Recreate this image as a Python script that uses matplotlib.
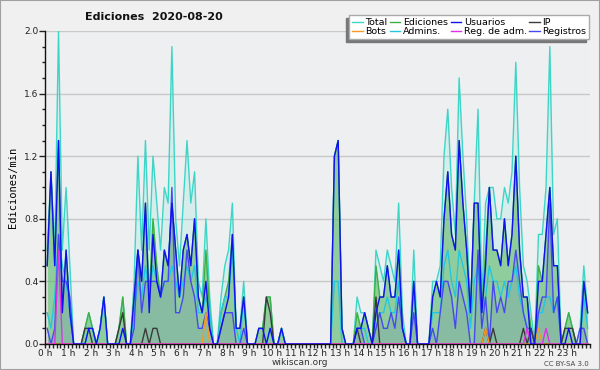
import numpy as np
import matplotlib
matplotlib.use("Agg")
import matplotlib.pyplot as plt
from matplotlib.patches import Rectangle

# 10 minute slots over the day, values in edits per minute
slot_minutes = np.arange(144) * 10 + 5
hour_labels = ["%d h" % h for h in range(24)]

total = [0.6, 1.1, 0.6, 2.0, 0.6, 1.0, 0.5, 0, 0, 0, 0.1, 0.2,
         0.1, 0, 0.1, 0.3, 0, 0, 0, 0.1, 0.3, 0, 0, 0.4,
         1.2, 0.6, 1.3, 0.6, 1.2, 0.9, 0.6, 1.0, 0.9, 1.9, 0.8, 0.5,
         0.9, 1.3, 0.9, 1.1, 0.4, 0.3, 0.8, 0.3, 0, 0, 0.3, 0.5,
         0.6, 0.9, 0.1, 0.1, 0.4, 0, 0, 0, 0.1, 0.1, 0.3, 0.3,
         0, 0, 0.1, 0, 0, 0, 0, 0, 0, 0, 0, 0,
         0, 0, 0, 0, 1.2, 1.3, 0.1, 0, 0, 0, 0.3, 0.2,
         0.2, 0.1, 0, 0.6, 0.5, 0.4, 0.6, 0.5, 0.4, 0.9, 0.2, 0,
         0, 0.6, 0, 0, 0, 0, 0.4, 0.4, 0.5, 1.2, 1.5, 1.0,
         0.7, 1.7, 1.2, 0.8, 0.2, 0.9, 1.5, 0.3, 0.9, 1.0, 1.0, 0.8,
         0.8, 1.0, 0.9, 1.1, 1.8, 1.0, 0.5, 0.4, 0.2, 0, 0.7, 0.7,
         1.0, 1.9, 0.7, 0.8, 0, 0.1, 0.2, 0.1, 0, 0.1, 0.5, 0.2]

ediciones = [0.5, 1.1, 0.5, 1.3, 0.2, 0.6, 0.2, 0, 0, 0, 0.1, 0.2,
             0.1, 0, 0.1, 0.3, 0, 0, 0, 0.1, 0.3, 0, 0, 0.3,
             0.6, 0.4, 0.9, 0.3, 0.8, 0.5, 0.3, 0.6, 0.5, 0.9, 0.6, 0.3,
             0.6, 0.7, 0.5, 0.8, 0.3, 0.2, 0.6, 0.2, 0, 0, 0.2, 0.3,
             0.4, 0.7, 0.1, 0.1, 0.3, 0, 0, 0, 0.1, 0.1, 0.3, 0.3,
             0, 0, 0.1, 0, 0, 0, 0, 0, 0, 0, 0, 0,
             0, 0, 0, 0, 1.2, 1.3, 0.1, 0, 0, 0, 0.2, 0.1,
             0.2, 0.1, 0, 0.5, 0.3, 0.3, 0.5, 0.3, 0.3, 0.6, 0.1, 0,
             0, 0.4, 0, 0, 0, 0, 0.3, 0.4, 0.3, 0.8, 1.1, 0.7,
             0.6, 1.3, 0.9, 0.6, 0.2, 0.9, 0.9, 0.2, 0.6, 1.0, 0.6, 0.6,
             0.5, 0.8, 0.5, 0.7, 1.2, 0.6, 0.3, 0.3, 0.1, 0, 0.5, 0.4,
             0.7, 1.0, 0.5, 0.5, 0, 0.1, 0.2, 0.1, 0, 0, 0.4, 0.2]

usuarios = [0.5, 1.1, 0.5, 1.3, 0.2, 0.6, 0.2, 0, 0, 0, 0, 0.1,
            0.1, 0, 0.1, 0.3, 0, 0, 0, 0, 0.1, 0, 0, 0.3,
            0.6, 0.4, 0.9, 0.2, 0.7, 0.4, 0.3, 0.6, 0.5, 0.9, 0.6, 0.3,
            0.6, 0.7, 0.5, 0.8, 0.3, 0.2, 0.4, 0.1, 0, 0, 0.1, 0.2,
            0.3, 0.7, 0.1, 0.1, 0.3, 0, 0, 0, 0.1, 0.1, 0, 0.1,
            0, 0, 0.1, 0, 0, 0, 0, 0, 0, 0, 0, 0,
            0, 0, 0, 0, 1.2, 1.3, 0.1, 0, 0, 0, 0.1, 0.1,
            0.2, 0.1, 0, 0.2, 0.3, 0.3, 0.5, 0.3, 0.3, 0.6, 0.1, 0,
            0, 0.4, 0, 0, 0, 0, 0.3, 0.4, 0.3, 0.8, 1.1, 0.7,
            0.6, 1.3, 0.9, 0.6, 0.2, 0.9, 0.9, 0.2, 0.5, 1.0, 0.6, 0.6,
            0.5, 0.8, 0.5, 0.7, 1.2, 0.6, 0.3, 0.3, 0, 0, 0.4, 0.4,
            0.7, 1.0, 0.5, 0.5, 0, 0, 0.1, 0, 0, 0, 0.4, 0.2]

ip = [0, 0, 0, 0, 0, 0, 0, 0, 0, 0, 0.1, 0.1,
      0, 0, 0, 0, 0, 0, 0, 0.1, 0.2, 0, 0, 0,
      0, 0, 0.1, 0, 0.1, 0.1, 0, 0, 0, 0, 0, 0,
      0, 0, 0, 0, 0, 0, 0, 0, 0, 0, 0, 0,
      0, 0, 0, 0, 0, 0, 0, 0, 0, 0, 0.3, 0.2,
      0, 0, 0, 0, 0, 0, 0, 0, 0, 0, 0, 0,
      0, 0, 0, 0, 0, 0, 0, 0, 0, 0, 0.1, 0,
      0, 0, 0, 0.3, 0, 0, 0, 0, 0, 0, 0, 0,
      0, 0, 0, 0, 0, 0, 0, 0, 0, 0, 0, 0,
      0, 0, 0, 0, 0, 0, 0, 0, 0.1, 0, 0.1, 0,
      0, 0, 0, 0, 0, 0, 0.1, 0, 0.1, 0, 0, 0,
      0, 0, 0, 0, 0, 0.1, 0.1, 0.1, 0, 0, 0, 0]

bots = [0, 0, 0, 0, 0, 0, 0, 0, 0, 0, 0, 0,
        0, 0, 0, 0, 0, 0, 0, 0, 0, 0, 0, 0,
        0, 0, 0, 0, 0, 0, 0, 0, 0, 0, 0, 0,
        0, 0, 0, 0, 0, 0, 0.2, 0, 0, 0, 0, 0,
        0, 0, 0, 0, 0, 0, 0, 0, 0, 0, 0, 0,
        0, 0, 0, 0, 0, 0, 0, 0, 0, 0, 0, 0,
        0, 0, 0, 0, 0, 0, 0, 0, 0, 0, 0, 0,
        0, 0, 0, 0, 0, 0, 0, 0, 0, 0, 0, 0,
        0, 0, 0, 0, 0, 0, 0, 0, 0, 0, 0, 0,
        0, 0, 0, 0, 0, 0, 0, 0, 0.1, 0, 0, 0,
        0, 0, 0, 0, 0, 0, 0, 0, 0, 0, 0.1, 0,
        0, 0, 0, 0, 0, 0, 0, 0, 0, 0, 0, 0]

admins = [0.2, 0.1, 0.3, 0.7, 0.5, 0.4, 0.2, 0, 0, 0, 0, 0.1,
          0.1, 0, 0.1, 0.3, 0, 0, 0, 0, 0.1, 0, 0, 0.2,
          0.4, 0.3, 0.5, 0.3, 0.5, 0.4, 0.3, 0.4, 0.4, 0.5, 0.4, 0.3,
          0.4, 0.5, 0.4, 0.5, 0.2, 0.2, 0.3, 0.2, 0, 0, 0.2, 0.3,
          0.3, 0.6, 0.1, 0, 0.3, 0, 0, 0, 0, 0, 0, 0.1,
          0, 0, 0.1, 0, 0, 0, 0, 0, 0, 0, 0, 0,
          0, 0, 0, 0, 0.4, 0.4, 0, 0, 0, 0, 0.1, 0.1,
          0.1, 0, 0, 0.1, 0.2, 0.2, 0.3, 0.2, 0.2, 0.4, 0.1, 0,
          0, 0.4, 0, 0, 0, 0, 0.2, 0.2, 0.2, 0.5, 0.6, 0.4,
          0.3, 0.6, 0.5, 0.4, 0.1, 0.4, 0.5, 0.2, 0.3, 0.5, 0.4, 0.4,
          0.3, 0.4, 0.3, 0.4, 0.5, 0.3, 0.2, 0.1, 0, 0, 0.2, 0.2,
          0.3, 0.3, 0.2, 0.3, 0, 0, 0, 0, 0, 0, 0.3, 0.1]

reg_adm = [0, 0, 0, 0.6, 0, 0, 0, 0, 0, 0, 0, 0,
           0, 0, 0, 0, 0, 0, 0, 0, 0, 0, 0, 0,
           0, 0, 0, 0, 0, 0, 0, 0, 0, 0, 0, 0,
           0, 0, 0, 0, 0, 0, 0, 0, 0, 0, 0, 0,
           0, 0, 0, 0, 0, 0, 0, 0, 0, 0, 0, 0,
           0, 0, 0, 0, 0, 0, 0, 0, 0, 0, 0, 0,
           0, 0, 0, 0, 0, 0, 0, 0, 0, 0, 0, 0,
           0, 0, 0, 0, 0, 0, 0, 0, 0, 0, 0, 0,
           0, 0, 0, 0, 0, 0, 0, 0, 0, 0, 0, 0,
           0, 0, 0, 0, 0, 0, 0, 0, 0, 0, 0, 0,
           0, 0, 0, 0, 0, 0, 0, 0.1, 0, 0, 0, 0,
           0.1, 0, 0, 0, 0, 0, 0, 0, 0, 0, 0, 0]

registros = [0.1, 0, 0.1, 0.7, 0.4, 0.4, 0.3, 0, 0, 0, 0, 0,
             0, 0, 0, 0, 0, 0, 0, 0, 0, 0, 0, 0.1,
             0.6, 0.2, 0.4, 0.4, 0.4, 0.4, 0.3, 0.4, 0.4, 1.0, 0.2, 0.2,
             0.3, 0.6, 0.4, 0.3, 0.1, 0.1, 0.2, 0.1, 0, 0, 0.1, 0.2,
             0.2, 0.2, 0, 0, 0.1, 0, 0, 0, 0, 0, 0, 0,
             0, 0, 0, 0, 0, 0, 0, 0, 0, 0, 0, 0,
             0, 0, 0, 0, 0, 0, 0, 0, 0, 0, 0.1, 0.1,
             0, 0, 0, 0.1, 0.2, 0.1, 0.1, 0.2, 0.1, 0.3, 0.1, 0,
             0, 0.2, 0, 0, 0, 0, 0.1, 0, 0.2, 0.4, 0.4, 0.3,
             0.1, 0.4, 0.3, 0.2, 0, 0, 0.6, 0.1, 0.3, 0, 0.4, 0.2,
             0.3, 0.2, 0.4, 0.4, 0.6, 0.4, 0.2, 0.1, 0.1, 0, 0.2, 0.3,
             0.3, 0.9, 0.2, 0.3, 0, 0, 0, 0, 0, 0.1, 0.1, 0]

x = slot_minutes / 60.0

fig = plt.figure(figsize=(6, 3.7), dpi=100, facecolor="#f0f0f0")
ax = fig.add_axes([0.0755, 0.0703, 0.907, 0.846])
ax.set_facecolor("#edeff1")

# filled areas first
ax.fill_between(x, total, color="#40e0d0", alpha=0.13, lw=0, zorder=1)
ax.fill_between(x, ediciones, color="#4caf50", alpha=0.5, lw=0, zorder=1.1)
ax.fill_between(x, registros, color="#5050c8", alpha=0.13, lw=0, zorder=1.2)

lw = 1.0
l_total, = ax.plot(x, total, color="#3dd6c6", lw=lw, zorder=2, label="Total")
l_edic, = ax.plot(x, ediciones, color="#3cb043", lw=lw, zorder=2.1, label="Ediciones")
l_adm, = ax.plot(x, admins, color="#22c8e0", lw=lw, zorder=2.2, label="Admins.")
l_reg, = ax.plot(x, registros, color="#4848f0", lw=lw, zorder=2.3, label="Registros")
l_ip, = ax.plot(x, ip, color="#3a3a3a", lw=lw, zorder=2.4, label="IP")
l_bots, = ax.plot(x, bots, color="#f59a23", lw=lw, zorder=2.5, label="Bots")
l_regadm, = ax.plot(x, reg_adm, color="#e030e8", lw=lw, zorder=2.6, label="Reg. de adm.")
l_usu, = ax.plot(x, usuarios, color="#1010f0", lw=lw, zorder=2.7, label="Usuarios")

ax.set_xlim(0, 24)
ax.set_ylim(0, 2.0)
ax.set_xticks(range(24))
ax.set_xticklabels(hour_labels)
ax.set_xticks(np.arange(0, 24.01, 1 / 6.0), minor=True)
ax.set_yticks([0, 0.4, 0.8, 1.2, 1.6, 2.0])
ax.set_yticklabels(["0.0", "0.4", "0.8", "1.2", "1.6", "2.0"])
ax.set_yticks(np.arange(0, 2.01, 0.1), minor=True)
ax.tick_params(axis="both", which="major", labelsize=6.5, colors="#222222",
               length=3, width=1, direction="out", pad=0.5)
ax.tick_params(axis="y", which="major", length=4, pad=1)
ax.tick_params(axis="x", which="minor", length=3, width=1, color="#222222")
ax.tick_params(axis="y", which="minor", length=2, width=1, color="#222222")
ax.grid(axis="y", which="major", color="#c8c8c8", lw=1)
ax.set_axisbelow(True)
for s in ["top", "right"]:
    ax.spines[s].set_visible(False)
for s in ["left", "bottom"]:
    ax.spines[s].set_color("#111111")
    ax.spines[s].set_linewidth(1)

ax.set_ylabel("Ediciones/min", family="DejaVu Sans Mono", fontsize=7.5, labelpad=4)

fig.text(0.257, 0.955, "Ediciones  2020-08-20", fontsize=8, fontweight="bold",
         ha="center", va="center", color="#111111")
fig.text(0.5, 0.019, "wikiscan.org", fontsize=6.5, ha="center", va="center", color="#333333")
fig.text(0.982, 0.017, "CC BY-SA 3.0", fontsize=5, ha="right", va="center", color="#444444")

handles = [l_total, l_bots, l_edic, l_adm, l_usu, l_regadm, l_ip, l_reg]
leg = fig.legend(handles=handles, loc="upper right", bbox_to_anchor=(0.99, 0.972),
                 ncol=4, fontsize=6.8, frameon=True, fancybox=False, framealpha=1,
                 edgecolor="#aaaaaa", facecolor="white", borderpad=0.3,
                 labelspacing=0.0, handlelength=1.1, handletextpad=0.3,
                 columnspacing=0.25,
                 shadow={"ox": -2.2, "oy": -2.2, "color": "#777777", "alpha": 1})
leg.set_zorder(10)

fig.patches.append(Rectangle((0, 0), 1, 1, transform=fig.transFigure, fill=False,
                             edgecolor="#a0a0a0", lw=1.5))

fig.savefig("out.png", dpi=100, facecolor=fig.get_facecolor())
